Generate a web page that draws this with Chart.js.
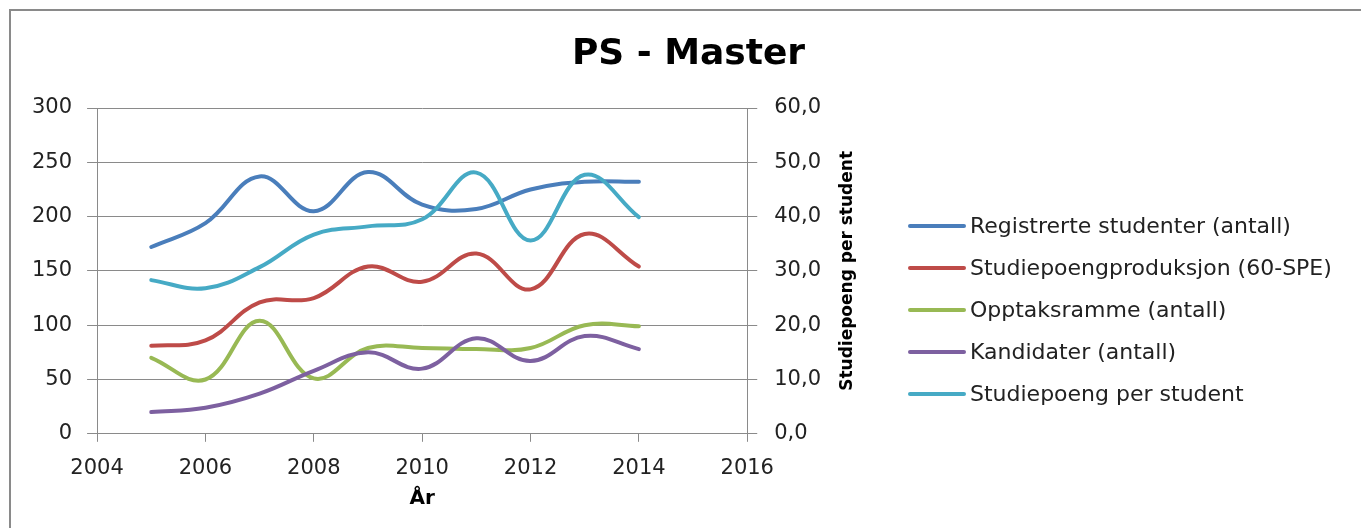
<!DOCTYPE html>
<html>
<head>
<meta charset="utf-8">
<script src="https://cdn.jsdelivr.net/npm/chart.js@4"></script>
<style>
  body { margin: 0; background: #fff; overflow: hidden; }
  #frame { position: absolute; left: 9px; top: 9px; width: 1400px; height: 560px; border: 2px solid #8a8a8a; box-sizing: border-box; }
  #wrap { position: absolute; left: 0; top: 0; width: 1361px; height: 528px; }
</style>
</head>
<body>
<div id="frame"></div>
<div id="wrap"><canvas id="chart"></canvas></div>
<script>
// PS - Master, verdier lest av figuren
const years = [2005, 2006, 2007, 2008, 2009, 2010, 2011, 2012, 2013, 2014];
const registrerte = [172, 194, 237, 205, 241, 211, 207, 225, 232, 232];
const spProduksjon = [81, 86, 121, 125, 154, 140, 166, 133, 184, 154];
const opptaksramme = [70, 50, 104, 51, 79, 79, 78, 79, 100, 99];
const kandidater = [20, 24, 37, 58, 75, 60, 88, 67, 90, 78];
const spPerStudent = [28.3, 26.8, 30.7, 36.7, 38.2, 39.5, 48.1, 35.6, 47.7, 39.9];

const seriesNames = ["Registrerte studenter (antall)", "Studiepoengproduksjon (60-SPE)", "Opptaksramme (antall)", "Kandidater (antall)", "Studiepoeng per student"];
const seriesColors = ['#4A7EBB', '#BE4B48', '#98B954', '#7D60A0', '#46AAC5'];

const FONT = "'DejaVu Sans', sans-serif";
const GRID = '#8a8a8a';

function pts(vals) {
    return years.map((y, i) => ({ x: y, y: vals[i] }));
}

const allSeries = [registrerte, spProduksjon, opptaksramme, kandidater, spPerStudent];
const datasets = allSeries.map((vals, i) => ({
    label: seriesNames[i],
    data: pts(vals),
    borderColor: seriesColors[i],
    backgroundColor: seriesColors[i],
    borderWidth: 4,
    borderCapStyle: 'round',
    pointRadius: 0,
    tension: 0.4,
    yAxisID: i === 4 ? 'y1' : 'y',
    order: 4 - i
}));

// tittel midt på hele rammen, ikke bare over plottet
const mainTitle = {
    id: 'mainTitle',
    afterDraw(chart) {
        const ctx = chart.ctx;
        ctx.save();
        ctx.font = "bold 36px " + FONT;
        ctx.fillStyle = '#000';
        ctx.textAlign = 'center';
        ctx.textBaseline = 'middle';
        ctx.fillText('PS - Master', chart.width / 2 + 8, 55);
        ctx.restore();
    }
};

// høyre aksetittel leses nedenfra og opp, slik som i Excel
const rightTitle = {
    id: 'rightTitle',
    afterDraw(chart) {
        const s = chart.scales.y1;
        const ctx = chart.ctx;
        ctx.save();
        ctx.translate(s.right - 40, (s.top + s.bottom) / 2);
        ctx.rotate(-Math.PI / 2);
        ctx.font = "bold 17px " + FONT;
        ctx.fillStyle = '#000';
        ctx.textAlign = 'center';
        ctx.textBaseline = 'middle';
        ctx.fillText('Studiepoeng per student', 0, 0);
        ctx.restore();
    }
};

// egen forklaring: innebygd legend får ikke bli bred nok
const sideLegend = {
    id: 'sideLegend',
    afterDraw(chart) {
        const ctx = chart.ctx;
        const x0 = chart.scales.y1.right + 22;
        const y0 = 226;
        ctx.save();
        ctx.font = "22px " + FONT;
        ctx.textBaseline = 'middle';
        chart.data.datasets.forEach((ds, i) => {
            const y = y0 + i * 42;
            ctx.strokeStyle = ds.borderColor;
            ctx.lineWidth = 4;
            ctx.lineCap = 'round';
            ctx.beginPath();
            ctx.moveTo(x0, y);
            ctx.lineTo(x0 + 54, y);
            ctx.stroke();
            ctx.fillStyle = '#222';
            ctx.fillText(ds.label, x0 + 60, y + 1);
        });
        ctx.restore();
    }
};

new Chart(document.getElementById('chart'), {
    type: 'line',
    data: { datasets },
    plugins: [mainTitle, rightTitle, sideLegend],
    options: {
        responsive: true,
        maintainAspectRatio: false,
        animation: false,
        layout: { padding: { left: 17, right: 473, top: 108, bottom: 16 } },
        plugins: {
            legend: { display: false },
            tooltip: { enabled: false }
        },
        scales: {
            x: {
                type: 'linear',
                min: 2004,
                max: 2016,
                ticks: {
                    stepSize: 2,
                    color: '#222',
                    font: { family: FONT, size: 21 },
                    padding: 14,
                    callback: v => String(v)
                },
                grid: { drawOnChartArea: false, drawTicks: true, tickLength: 8, color: GRID },
                border: { color: GRID },
                title: {
                    display: true,
                    text: 'År',
                    color: '#000',
                    font: { family: FONT, size: 20, weight: 'bold' },
                    padding: { top: -8, bottom: 1 }
                }
            },
            y: {
                position: 'left',
                min: 0,
                max: 300,
                ticks: {
                    stepSize: 50,
                    color: '#222',
                    font: { family: FONT, size: 21 },
                    padding: 15
                },
                grid: { color: GRID, tickLength: 10 },
                border: { color: GRID }
            },
            y1: {
                position: 'right',
                min: 0,
                max: 60,
                ticks: {
                    stepSize: 10,
                    color: '#222',
                    font: { family: FONT, size: 21 },
                    padding: 17,
                    callback: v => v.toFixed(1).replace('.', ',')
                },
                grid: { drawOnChartArea: false, tickLength: 10, color: GRID },
                border: { color: GRID },
                title: {
                    display: true,
                    text: 'Studiepoeng per student',
                    color: 'rgba(0,0,0,0)',
                    font: { family: FONT, size: 20, weight: 'bold' },
                    padding: { top: 18, bottom: 8 }
                }
            }
        }
    }
});
</script>
</body>
</html>
